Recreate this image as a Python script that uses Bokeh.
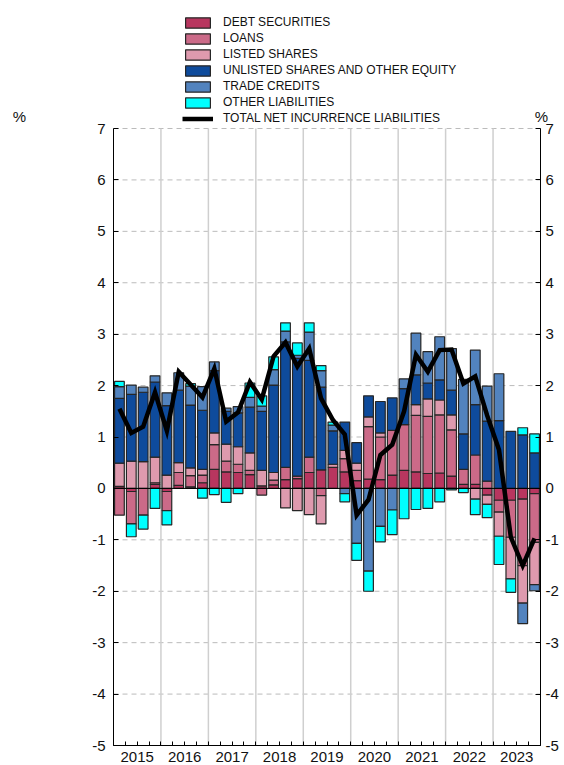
import numpy as np
from bokeh.plotting import figure
from bokeh.models import (LinearAxis, FixedTicker, Range1d, Label, Legend,
                          LegendItem, ColumnDataSource)
from bokeh.embed import file_html
from bokeh.resources import INLINE

years = [2015, 2016, 2017, 2018, 2019, 2020, 2021, 2022, 2023]
quarters = [f"{y}Q{q}" for y in years for q in range(1, 5)]

debt = [0.04, -0.06, 0.0, 0.08, -0.06, 0.06, 0.03, 0.11, 0.37, 0.32, 0.31, 0.27,
        0.05, 0.07, 0.17, 0.19, 0.31, 0.36, 0.41, 0.32, 0.15, 0.18, 0.17, 0.26,
        0.35, 0.32, 0.29, 0.30, 0.24, 0.08, 0.08, -0.13, -0.23, -0.23, -0.21, -0.10]
loans = [-0.52, -0.63, -0.52, 0.03, -0.37, 0.25, 0.22, 0.15, 0.48, 0.21, 0.16, 0.08,
         -0.13, 0.09, 0.24, 0.05, 0.30, -0.14, 0.0, 0.26, 0.20, 1.02, 0.83, 0.87,
         0.89, 1.10, 1.11, 1.13, 0.90, 0.29, 0.57, 0.14, -0.23, -0.72, -1.29, -0.95]
listed = [0.45, 0.53, 0.52, 0.50, 0.26, 0.19, 0.15, 0.11, 0.23, 0.33, 0.34, 0.34,
          0.30, 0.15, -0.38, -0.43, -0.51, -0.55, 0.06, 0.16, 0.14, 0.19, 0.08, 0.0,
          0.0, 0.21, 0.34, 0.29, 0.29, 0.0, -0.21, -0.18, -0.47, -0.81, -0.73, -0.82]
unlisted = [1.26, 1.30, 1.35, 1.46, 1.35, 1.41, 1.22, 1.15, 1.21, 0.64, 0.66, 0.89,
            1.15, 1.70, 2.44, 2.29, 1.88, 1.61, 0.65, 0.55, 0.40, 0.41, 0.61, 0.63,
            0.70, 0.58, 0.31, 0.39, 0.48, 0.69, 0.98, 1.17, 1.32, 1.11, 1.04, 0.69]
trade = [0.23, 0.18, 0.10, 0.12, 0.25, 0.34, 0.37, 0.46, 0.17, 0.06, 0.12, 0.19,
         0.10, 0.30, 0.21, 0.06, 0.55, 0.32, 0.11, -0.10, -1.07, -1.61, -0.74, -0.42,
         0.19, 0.81, 0.61, 0.84, 0.81, 1.06, 1.06, 0.68, 0.91, 0.0, -0.40, -0.12]
other = [0.10, -0.25, -0.27, -0.39, -0.28, 0.0, 0.05, -0.19, -0.12, -0.27, -0.10, 0.28,
         0.20, 0.25, 0.16, 0.24, 0.18, 0.10, 0.06, -0.16, -0.33, -0.39, -0.30, -0.48,
         -0.59, -0.41, -0.39, -0.26, -0.03, -0.08, -0.30, -0.26, -0.55, -0.26, 0.14, 0.37]
total = [1.55, 1.08, 1.20, 1.87, 1.12, 2.27, 2.02, 1.77, 2.33, 1.30, 1.48, 2.07,
         1.73, 2.57, 2.84, 2.37, 2.72, 1.75, 1.33, 1.05, -0.52, -0.22, 0.65, 0.85,
         1.50, 2.60, 2.27, 2.69, 2.70, 2.04, 2.18, 1.42, 0.75, -0.95, -1.50, -0.97]

series_names = ["DEBT SECURITIES", "LOANS", "LISTED SHARES",
                "UNLISTED SHARES AND OTHER EQUITY", "TRADE CREDITS", "OTHER LIABILITIES"]
series_vals = [debt, loans, listed, unlisted, trade, other]
colors = ["#B8365F", "#CB6A88", "#DE9AAE", "#0E4B9C", "#5283BE", "#00FFFF"]
line_name = "TOTAL NET INCURRENCE LIABILITIES"
y_ticks = list(range(-5, 8))
unit_label = "%"

FONT = "Liberation Sans"
W, H = 564, 765
# plot-area placement in pixels
FL, FR, FT, FB = 113, 540, 128, 745

x0, x1 = years[0], years[-1] + 1
y0, y1 = y_ticks[0], y_ticks[-1]
pxx = (FR - FL) / (x1 - x0)
pxy = (FB - FT) / (y1 - y0)
xr = Range1d(x0 - FL / pxx, x1 + (W - FR) / pxx)
yr = Range1d(y0 - (H - FB) / pxy, y1 + FT / pxy)

x = np.array([int(q[:4]) + (int(q[-1]) - 0.5) / 4 for q in quarters])

p = figure(width=W, height=H, x_range=xr, y_range=yr,
           x_axis_type=None, y_axis_type=None,
           output_backend="svg", toolbar_location=None,
           min_border_left=0, min_border_right=0, min_border_top=0, min_border_bottom=0)
p.outline_line_color = None
p.background_fill_color = "white"

# grid lines (from tick lists)
p.segment(x0=[x0] * len(y_ticks), x1=[x1] * len(y_ticks), y0=y_ticks, y1=y_ticks,
          line_color="#BBBBBB", line_width=1, line_dash="5 4")
p.segment(x0=years[1:], x1=years[1:], y0=[y0] * (len(years) - 1), y1=[y1] * (len(years) - 1),
          line_color="#CFCFCF", line_width=1.5)

pos_base = np.zeros(len(x))
neg_base = np.zeros(len(x))
items = []
for name, vals, col in zip(series_names, series_vals, colors):
    v = np.array(vals, dtype=float)
    bottom = np.where(v >= 0, pos_base, neg_base + v)
    top = np.where(v >= 0, pos_base + v, neg_base)
    pos_base = np.where(v >= 0, pos_base + v, pos_base)
    neg_base = np.where(v < 0, neg_base + v, neg_base)
    m = v != 0
    src = ColumnDataSource(dict(x=x[m], bottom=bottom[m], top=top[m]))
    r = p.vbar(x="x", bottom="bottom", top="top", width=0.205, source=src,
               fill_color=col, line_color="#262626", line_width=1.2)
    items.append(LegendItem(label=name, renderers=[r]))

# zero line
p.segment(x0=[x0], x1=[x1], y0=[0], y1=[0], line_color="black", line_width=1)

lr = p.line(x, total, line_color="black", line_width=4.5, line_join="miter")
items.append(LegendItem(label=line_name, renderers=[lr]))

legend = Legend(items=items, location=(182, H - 125), orientation="vertical",
                glyph_width=31, glyph_height=13, label_height=13, spacing=2,
                label_standoff=10, padding=0, margin=0,
                border_line_color=None, background_fill_alpha=0,
                label_text_font=FONT, label_text_font_size="12px",
                label_text_color="#111111")
p.add_layout(legend, "center")

# axes
xt = FixedTicker(ticks=[y + 0.5 for y in years],
                 minor_ticks=[x0 + i / 4 for i in range(4 * len(years) + 1)])
bottom_ax = LinearAxis(ticker=xt, fixed_location=y0, bounds=(x0, x1))
bottom_ax.major_label_overrides = {y + 0.5: str(y) for y in years}
bottom_ax.major_tick_in = 0
bottom_ax.major_tick_out = 0
bottom_ax.minor_tick_in = 4
bottom_ax.minor_tick_out = 0
bottom_ax.major_label_standoff = 6
bottom_ax.minor_tick_line_color = "black"
p.add_layout(bottom_ax, "below")

yt = FixedTicker(ticks=y_ticks, minor_ticks=[])
left_ax = LinearAxis(ticker=yt, fixed_location=x0, bounds=(y0, y1))
right_ax = LinearAxis(ticker=yt, fixed_location=x1, bounds=(y0, y1))
p.add_layout(left_ax, "left")
p.add_layout(right_ax, "right")
for ax in (left_ax, right_ax):
    ax.major_tick_in = 5
    ax.major_tick_out = 0
    ax.minor_tick_line_color = None
    ax.major_tick_line_color = "black"
    ax.major_label_overrides = {t: str(t) for t in y_ticks}
left_ax.major_label_standoff = 8
right_ax.major_label_standoff = 5

for ax in (bottom_ax, left_ax, right_ax):
    ax.axis_line_color = "black"
    ax.major_label_text_font = FONT
    ax.major_label_text_font_size = "15px"
    ax.major_label_text_color = "#111111"

ly = y1 + (FT - 116) / pxy
p.add_layout(Label(x=x0 - (FL - 19) / pxx, y=ly, text=unit_label, text_align="center",
                   text_baseline="middle", text_font=FONT, text_font_size="15px",
                   text_color="#111111"))
p.add_layout(Label(x=x1 + 1 / pxx, y=ly, text=unit_label, text_align="center",
                   text_baseline="middle", text_font=FONT, text_font_size="15px",
                   text_color="#111111"))

open("out.html", "w").write(file_html(p, INLINE))
